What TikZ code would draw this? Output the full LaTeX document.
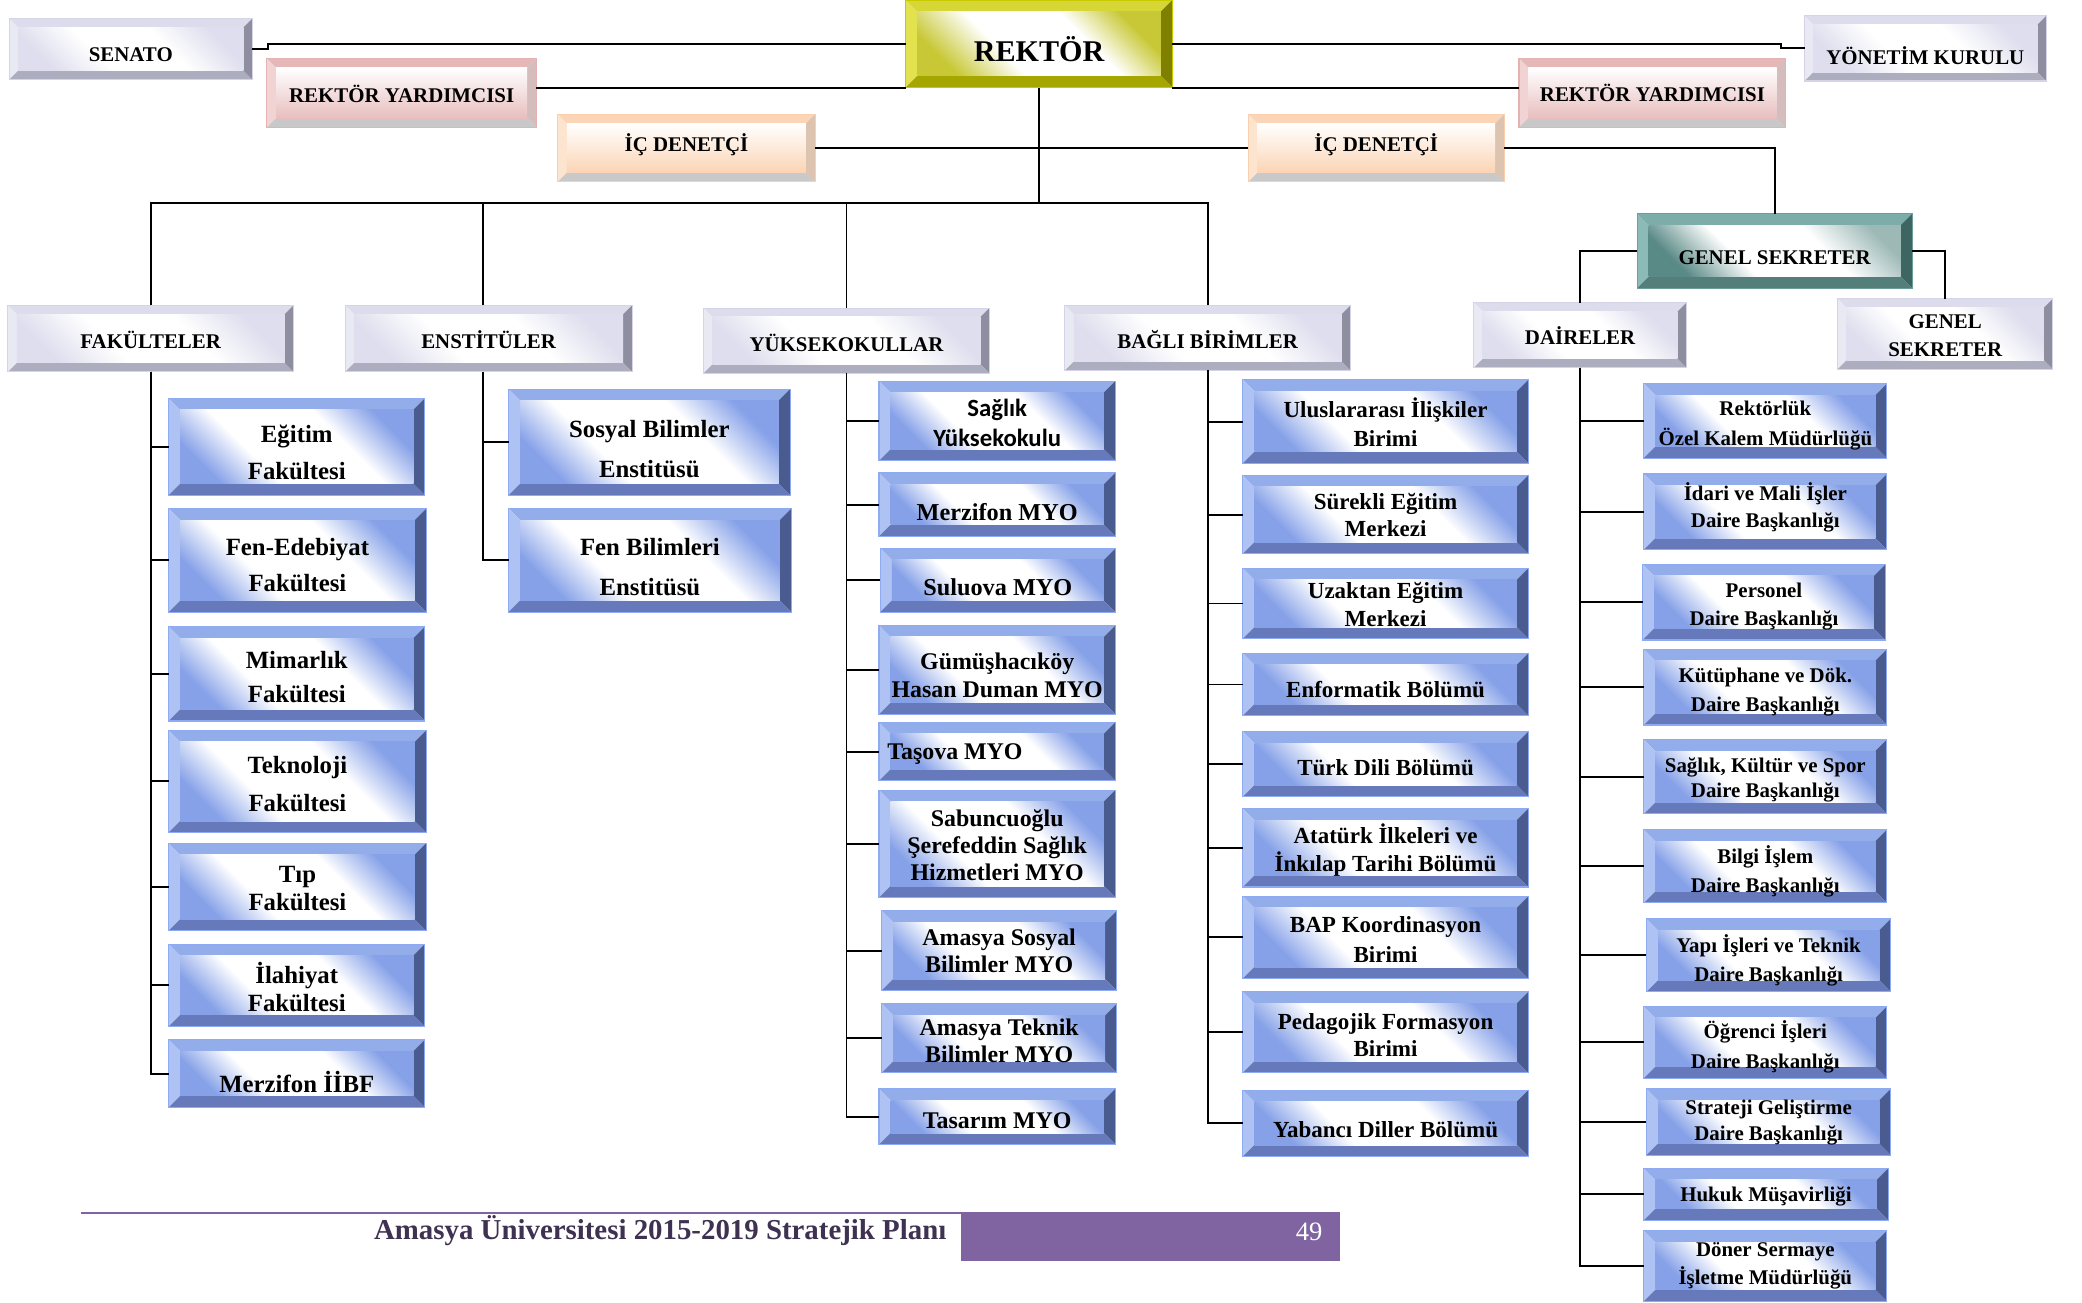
\documentclass[tikz,border=0pt]{standalone}
\usepackage{fontspec}
\setmainfont{Liberation Serif}
\newfontfamily\calfont{Carlito}
\usetikzlibrary{calc}

\definecolor{bluet}{HTML}{93ADEB}
\definecolor{bluel}{HTML}{AEC2F3}
\definecolor{bluer}{HTML}{4A5C8F}
\definecolor{blueb}{HTML}{6579BB}
\definecolor{bluebd}{HTML}{8DAAF2}
\definecolor{bluein}{HTML}{86A1E8}
\definecolor{lavt}{HTML}{DCDCEC}
\definecolor{lavl}{HTML}{E9E9F4}
\definecolor{lavr}{HTML}{8E8EA0}
\definecolor{lavb}{HTML}{ADADC0}
\definecolor{lavbd}{HTML}{D4D4E6}
\definecolor{lavin}{HTML}{DEDEEE}
\definecolor{yelt}{HTML}{D6D637}
\definecolor{yell}{HTML}{E2E24F}
\definecolor{yelr}{HTML}{7F7F00}
\definecolor{yelb}{HTML}{A6A600}
\definecolor{yelbd}{HTML}{C9C900}
\definecolor{yelin}{HTML}{C8C836}
\definecolor{pinkt}{HTML}{E5B8B7}
\definecolor{pinkl}{HTML}{F0D3D2}
\definecolor{pinkr}{HTML}{D6BDBD}
\definecolor{pinkb}{HTML}{C8C8C8}
\definecolor{pinkbd}{HTML}{E3B3B3}
\definecolor{pinkin}{HTML}{E8BEBE}
\definecolor{peacht}{HTML}{FBD5B5}
\definecolor{peachl}{HTML}{FDE4CF}
\definecolor{peachr}{HTML}{DCC4B0}
\definecolor{peachb}{HTML}{C9C9C9}
\definecolor{peachbd}{HTML}{F9CFAE}
\definecolor{peachin}{HTML}{FBD4B4}
\definecolor{tealt}{HTML}{7DADA9}
\definecolor{teall}{HTML}{8CBAB6}
\definecolor{tealr}{HTML}{3D6663}
\definecolor{tealb}{HTML}{547E7A}
\definecolor{tealbd}{HTML}{6E9E9A}
\definecolor{tealin}{HTML}{5A8A86}
\definecolor{footpurple}{HTML}{8064A2}
\definecolor{foottext}{HTML}{3F3151}

\pgfdeclarehorizontalshading{bluediag}{100bp}{color(0bp)=(bluein); color(24bp)=(bluein); color(38bp)=(white); color(62bp)=(white); color(76bp)=(bluein); color(100bp)=(bluein)}
\pgfdeclarehorizontalshading{lavdiag}{100bp}{color(0bp)=(lavin); color(24bp)=(lavin); color(40bp)=(white); color(60bp)=(white); color(76bp)=(lavin); color(100bp)=(lavin)}
\pgfdeclarehorizontalshading{yeldiag}{100bp}{color(0bp)=(yelin); color(24bp)=(yelin); color(40bp)=(white); color(62bp)=(white); color(76bp)=(yelin); color(100bp)=(yelin)}
\pgfdeclarehorizontalshading{tealdiag}{100bp}{color(0bp)=(tealin); color(24bp)=(tealin); color(40bp)=(white); color(62bp)=(white); color(78bp)=(tealin!60!white); color(100bp)=(tealin!60!white)}

\newcommand\bevelfill[6]{%
  \fill[#2] (path picture bounding box.north west) -- (path picture bounding box.north east)
    -- ([shift={(-#1,-#1)}]path picture bounding box.north east)
    -- ([shift={(#1,-#1)}]path picture bounding box.north west) -- cycle;
  \fill[#3] (path picture bounding box.north west) -- ([shift={(#1,-#1)}]path picture bounding box.north west)
    -- ([shift={(#1,#1)}]path picture bounding box.south west) -- (path picture bounding box.south west) -- cycle;
  \fill[#4] (path picture bounding box.north east) -- (path picture bounding box.south east)
    -- ([shift={(-#1,#1)}]path picture bounding box.south east) -- ([shift={(-#1,-#1)}]path picture bounding box.north east) -- cycle;
  \fill[#5] (path picture bounding box.south west) -- ([shift={(#1,#1)}]path picture bounding box.south west)
    -- ([shift={(-#1,#1)}]path picture bounding box.south east) -- (path picture bounding box.south east) -- cycle;
  \shade[#6] ([shift={(#1,-#1)}]path picture bounding box.north west) rectangle ([shift={(-#1,#1)}]path picture bounding box.south east);
}

\tikzset{
  boxbase/.style={inner sep=0pt, outer sep=0pt, line width=0.6pt},
  blueshade/.style={shading=bluediag, shading angle=45},
  lavshade/.style={shading=lavdiag, shading angle=45},
  yelshade/.style={shading=yeldiag, shading angle=45},
  tealshade/.style={shading=tealdiag, shading angle=45},
  pinkshade/.style={top color=white, bottom color=pinkin},
  peachshade/.style={top color=white, bottom color=peachin},
  bluebox/.style={boxbase, draw=bluebd, path picture={\bevelfill{6.5pt}{bluet}{bluel}{bluer}{blueb}{blueshade}}},
  lavbox/.style={boxbase, draw=lavbd, path picture={\bevelfill{5pt}{lavt}{lavl}{lavr}{lavb}{lavshade}}},
  yelbox/.style={boxbase, draw=yelbd, path picture={\bevelfill{6.75pt}{yelt}{yell}{yelr}{yelb}{yelshade}}},
  pinkbox/.style={boxbase, draw=pinkbd, path picture={\bevelfill{5.25pt}{pinkt}{pinkl}{pinkr}{pinkb}{pinkshade}}},
  peachbox/.style={boxbase, draw=peachbd, path picture={\bevelfill{5.25pt}{peacht}{peachl}{peachr}{peachb}{peachshade}}},
  tealbox/.style={boxbase, draw=tealbd, path picture={\bevelfill{6.5pt}{tealt}{teall}{tealr}{tealb}{tealshade}}},
  conn/.style={draw=black, line width=1.1pt},
  txt/.style={inner sep=0pt, align=center, text=black},
  fs/.style 2 args={font=\fontsize{#1}{#2}\selectfont\bfseries},
  fssans/.style 2 args={font=\calfont\fontsize{#1}{#2}\selectfont\bfseries},
}

% #1 style, #2 name, #3 x1, #4 y1, #5 x2, #6 y2, #7 text y, #8 text options, #9 text
\newcommand\bx[9]{%
  \node[#1, minimum width={(#5-#3)*0.75pt}, minimum height={(#6-#4)*0.75pt}] (#2) at ({(#3+#5)/2},{(#4+#6)/2}) {};
  \node[txt,#8] (#2-t) at ({(#3+#5)/2},#7) {#9};
}

\begin{document}
\begin{tikzpicture}[x=0.75pt,y=-0.75pt]
\useasboundingbox (0,0) rectangle (1568,981);
\fill[white] (0,0) rectangle (1568,981);

% ---------- top level ----------
\bx{lavbox}{senato}{7}{14}{190}{60}{41}{fs={11.8}{14}}{SENATO}
\bx{yelbox}{rektor}{682}{0}{883}{66}{37}{fs={17}{20}}{REKTÖR}
\bx{lavbox}{yonetim}{1359}{12}{1541}{61}{42}{fs={11.8}{14}}{YÖNETİM KURULU}
\bx{pinkbox}{ryl}{201}{44}{404}{96}{71}{fs={11.8}{14}}{REKTÖR YARDIMCISI}
\bx{pinkbox}{ryr}{1144}{44}{1345}{96}{70}{fs={11.8}{14}}{REKTÖR YARDIMCISI}
\bx{peachbox}{icl}{420}{86}{614}{137}{109}{fs={11.8}{14}}{İÇ DENETÇİ}
\bx{peachbox}{icr}{940}{86}{1133}{137}{109}{fs={11.8}{14}}{İÇ DENETÇİ}
\bx{tealbox}{gs}{1233}{161}{1440}{217}{194}{fs={11.8}{14}}{GENEL SEKRETER}

% ---------- headers ----------
\bx{lavbox}{fak}{6}{230}{221}{280}{256}{fs={11.8}{14}}{FAKÜLTELER}
\bx{lavbox}{enst}{260}{230}{476}{280}{256}{fs={11.8}{14}}{ENSTİTÜLER}
\bx{lavbox}{yo}{530}{232}{745}{281}{258}{fs={11.8}{14}}{YÜKSEKOKULLAR}
\bx{lavbox}{bagli}{802}{230}{1017}{279}{256}{fs={11.8}{14}}{BAĞLI BİRİMLER}
\bx{lavbox}{dai}{1110}{228}{1270}{277}{253}{fs={11.8}{14}}{DAİRELER}
\bx{lavbox}{gs2}{1384}{225}{1546}{278}{252.5}{fs={11.8}{15.75}}{GENEL\\SEKRETER}

% ---------- fakülteler ----------
\bx{bluebox}{egitim}{127}{300}{320}{373}{341}{fs={14}{21}}{Eğitim\\Fakültesi}
\bx{bluebox}{fened}{127}{383}{321}{461}{425.5}{fs={14}{20.25}}{Fen-Edebiyat\\Fakültesi}
\bx{bluebox}{mimar}{127}{472}{320}{543}{510}{fs={14}{19.5}}{Mimarlık\\Fakültesi}
\bx{bluebox}{tekno}{127}{550}{321}{627}{590.5}{fs={14}{21.75}}{Teknoloji\\Fakültesi}
\bx{bluebox}{tip}{127}{635}{321}{701}{669.5}{fs={14}{15.75}}{Tıp\\Fakültesi}
\bx{bluebox}{ilahiyat}{127}{711}{320}{773}{743.5}{fs={14}{15.75}}{İlahiyat\\Fakültesi}
\bx{bluebox}{merzifon}{127}{783}{320}{834}{815}{fs={14}{17}}{Merzifon İİBF}

% ---------- enstitüler ----------
\bx{bluebox}{sosyal}{383}{293}{595}{373}{338}{fs={14}{22.5}}{Sosyal Bilimler\\Enstitüsü}
\bx{bluebox}{fenbil}{383}{383}{596}{461}{427}{fs={14}{22.5}}{Fen Bilimleri\\Enstitüsü}

% ---------- yüksekokullar ----------
\bx{bluebox}{saglikyo}{662}{287}{840}{347}{318.5}{fssans={14}{17.25}}{Sağlık\\Yüksekokulu}
\bx{bluebox}{merzmyo}{662}{356}{840}{404}{386}{fs={13.7}{16}}{Merzifon MYO}
\bx{bluebox}{suluova}{663}{413}{840}{461}{442}{fs={13.7}{16}}{Suluova MYO}
\bx{bluebox}{gumus}{662}{471}{840}{538}{508.5}{fs={13.5}{15.75}}{Gümüşhacıköy\\Hasan Duman MYO}
\node[bluebox, minimum width={178*0.75pt}, minimum height={44*0.75pt}] (tasova) at (751,566) {};
\node[txt, fs={13.5}{16}, anchor=west] (tasova-t) at (668,568) {Taşova MYO};
\bx{bluebox}{sabun}{662}{595}{840}{676}{636.5}{fs={13.5}{15.4}}{Sabuncuoğlu\\Şerefeddin Sağlık\\Hizmetleri MYO}
\bx{bluebox}{amsos}{664}{686}{841}{746}{716}{fs={13.5}{15}}{Amasya Sosyal\\Bilimler MYO}
\bx{bluebox}{amtek}{664}{756}{841}{808}{784}{fs={13.5}{15}}{Amasya Teknik\\Bilimler MYO}
\bx{bluebox}{tasarim}{662}{820}{840}{862}{844}{fs={13.5}{16}}{Tasarım MYO}

% ---------- bağlı birimler ----------
\bx{bluebox}{ulus}{936}{286}{1151}{349}{318}{fs={13}{16.5}}{Uluslararası İlişkiler\\Birimi}
\bx{bluebox}{surekli}{936}{358}{1151}{417}{388}{fs={13}{15}}{Sürekli Eğitim\\Merkezi}
\bx{bluebox}{uzaktan}{936}{428}{1151}{481}{455.5}{fs={13}{15.75}}{Uzaktan Eğitim\\Merkezi}
\bx{bluebox}{enform}{936}{492}{1151}{539}{519}{fs={13}{16}}{Enformatik Bölümü}
\bx{bluebox}{turkdili}{936}{551}{1151}{600}{578}{fs={13}{16}}{Türk Dili Bölümü}
\bx{bluebox}{ataturk}{936}{609}{1151}{668}{640.5}{fs={13}{15.75}}{Atatürk İlkeleri ve\\İnkılap Tarihi Bölümü}
\bx{bluebox}{bap}{936}{675}{1151}{737}{707.5}{fs={13}{17.25}}{BAP Koordinasyon\\Birimi}
\bx{bluebox}{pedag}{936}{747}{1151}{808}{779.5}{fs={13}{15.75}}{Pedagojik Formasyon\\Birimi}
\bx{bluebox}{yabanci}{936}{821}{1151}{871}{851}{fs={13}{16}}{Yabancı Diller Bölümü}

% ---------- daireler ----------
\bx{bluebox}{ozel}{1238}{289}{1421}{345}{320.5}{fs={11.8}{17.25}}{Rektörlük\\Özel Kalem Müdürlüğü}
\bx{bluebox}{idari}{1238}{357}{1421}{414}{382}{fs={11.8}{15}}{İdari ve Mali İşler\\Daire Başkanlığı}
\bx{bluebox}{personel}{1237}{425}{1420}{482}{456.5}{fs={11.8}{15.75}}{Personel\\Daire Başkanlığı}
\bx{bluebox}{kutup}{1238}{489}{1421}{546}{521}{fs={11.8}{16.5}}{Kütüphane ve Dök.\\Daire Başkanlığı}
\bx{bluebox}{saglikk}{1238}{557}{1421}{613}{587.5}{fs={11.8}{14.25}}{Sağlık, Kültür ve Spor\\Daire Başkanlığı}
\bx{bluebox}{bilgi}{1238}{625}{1421}{680}{656}{fs={11.8}{16.5}}{Bilgi İşlem\\Daire Başkanlığı}
\bx{bluebox}{yapi}{1240}{692}{1424}{747}{723}{fs={11.8}{16.5}}{Yapı İşleri ve Teknik\\Daire Başkanlığı}
\bx{bluebox}{ogrenci}{1238}{758}{1421}{812}{788.5}{fs={11.8}{17.25}}{Öğrenci İşleri\\Daire Başkanlığı}
\bx{bluebox}{strateji}{1240}{820}{1424}{870}{845.5}{fs={11.8}{14.25}}{Strateji Geliştirme\\Daire Başkanlığı}
\bx{bluebox}{hukuk}{1238}{880}{1422}{919}{901}{fs={11.8}{16}}{Hukuk Müşavirliği}
\bx{bluebox}{doner}{1238}{927}{1421}{980}{953.5}{fs={11.8}{15.75}}{Döner Sermaye\\İşletme Müdürlüğü}

% ---------- connectors ----------
\coordinate (bus) at (0,153);
\coordinate (sk) at ([xshift=9pt]senato.east);
\coordinate (yk) at ([xshift=-13.5pt]yonetim.west);
\draw[conn] (senato.east) -- (sk) |- (rektor.west);
\draw[conn] (rektor.east) -| (yk) -- (yonetim.west);
\draw[conn] (ryl.east |- rektor.south) -- (rektor.south west);
\draw[conn] (rektor.south east) -- (ryr.west |- rektor.south);
\draw[conn] (rektor.south) -- (rektor.south |- bus);
\draw[conn] (icl.east) -- (icl.east -| rektor.south);
\draw[conn] (icr.west) -- (icr.west -| rektor.south);
\draw[conn] (icr.east) -| (gs.north);
\draw[conn] (gs.west) -| (dai.north);
\draw[conn] (gs.east) -| (gs2.north);
\draw[conn] (fak.north) |- (bus -| bagli.north) -- (bagli.north);
\draw[conn] ([xshift=-3pt]enst.north) -- ([xshift=-3pt]enst.north |- bus);
\draw[conn] (yo.north) -- (yo.north |- bus);

\foreach \c in {egitim,fened,mimar,tekno,tip,ilahiyat,merzifon}
  \draw[conn] (fak.south) |- (\c.west);
\foreach \c in {sosyal,fenbil}
  \draw[conn] ([xshift=-3pt]enst.south) |- (\c.west);
\foreach \c in {saglikyo,merzmyo,suluova,gumus,tasova,sabun,amsos,amtek,tasarim}
  \draw[conn] (yo.south) |- (\c.west);
\foreach \c in {ulus,surekli,uzaktan,enform,turkdili,ataturk,bap,pedag,yabanci}
  \draw[conn] (bagli.south) |- (\c.west);
\foreach \c in {ozel,idari,personel,kutup,saglikk,bilgi,yapi,ogrenci,strateji,hukuk,doner}
  \draw[conn] (dai.south) |- (\c.west);

% ---------- footer ----------
\coordinate (fl) at (61,913.5);
\node[fill=footpurple, inner sep=0pt, outer sep=0pt, minimum width={285*0.75pt}, minimum height={37*0.75pt}, anchor=north west] (pagebox) at (724,913) {};
\draw[footpurple, line width=1.1pt] (fl) -- (fl -| pagebox.west);
\node[font=\fontsize{16.3}{18}\selectfont\bfseries, text=foottext, anchor=east, inner sep=0pt] (foot) at (713,927) {Amasya Üniversitesi 2015-2019 Stratejik Planı};
\node[font=\fontsize{15}{18}\selectfont, text=white, inner sep=0pt] (pnum) at (986,928) {49};
\end{tikzpicture}
\end{document}
